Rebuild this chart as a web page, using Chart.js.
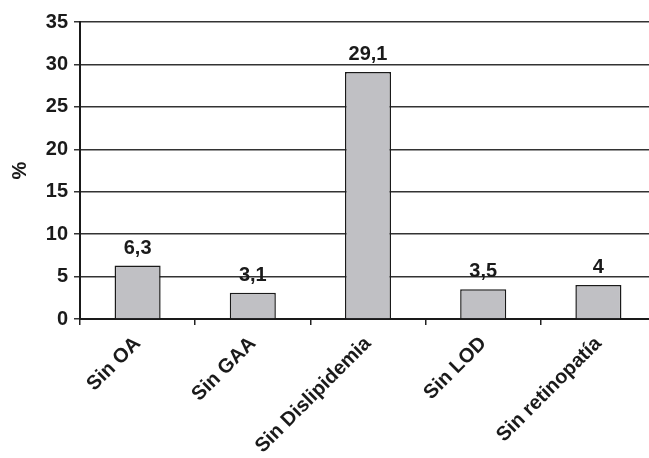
<!DOCTYPE html>
<html>
<head>
<meta charset="utf-8">
<script src="https://cdn.jsdelivr.net/npm/chart.js@4.4.1/dist/chart.umd.min.js"></script>
<style>
  html, body { margin: 0; padding: 0; background: #fff; overflow: hidden; }
  #wrap { width: 656px; height: 458px; }
</style>
</head>
<body>
<div id="wrap"><canvas id="c" width="656" height="458"></canvas></div>
<script>
const categories = ['Sin OA', 'Sin GAA', 'Sin Dislipidemia', 'Sin LOD', 'Sin retinopatía'];
const percentages = [6.3, 3.1, 29.1, 3.5, 4];
const yTicks = [0, 5, 10, 15, 20, 25, 30, 35];

const FONT = '"Liberation Sans", Arial, sans-serif';

// Writes each bar's value above it, with a decimal comma
const valueLabels = {
  id: 'valueLabels',
  afterDatasetsDraw(chart) {
    const ctx = chart.ctx;
    const meta = chart.getDatasetMeta(0);
    ctx.save();
    ctx.font = 'bold 20px ' + FONT;
    ctx.fillStyle = '#1a1a1a';
    ctx.textAlign = 'center';
    ctx.textBaseline = 'alphabetic';
    meta.data.forEach((bar, i) => {
      const txt = String(percentages[i]).replace('.', ',');
      ctx.fillText(txt, bar.x, bar.y - 12);
    });
    ctx.restore();
  }
};

new Chart(document.getElementById('c'), {
  type: 'bar',
  data: {
    labels: categories,
    datasets: [{
      data: percentages,
      backgroundColor: '#c0c0c4',
      borderColor: '#1a1a1a',
      borderWidth: 1.5,
      categoryPercentage: 0.4,
      barPercentage: 1
    }]
  },
  options: {
    responsive: false,
    animation: false,
    layout: { padding: { top: 22, right: 0, left: 0, bottom: 0 } },
    plugins: { legend: { display: false }, tooltip: { enabled: false } },
    scales: {
      x: {
        offset: true,
        grid: {
          offset: true,
          drawOnChartArea: false,
          drawTicks: true,
          tickLength: 6,
          color: '#222',
          lineWidth: 1.5
        },
        border: { color: '#1a1a1a', width: 2 },
        ticks: {
          color: '#1a1a1a',
          font: { family: FONT, size: 20, weight: 'bold' },
          minRotation: 45,
          maxRotation: 45,
          padding: 7
        },
        afterFit(scale) { scale.height = 139; }
      },
      y: {
        min: 0,
        max: 35,
        afterBuildTicks(scale) { scale.ticks = yTicks.map(v => ({ value: v })); },
        grid: {
          color: '#333',
          lineWidth: 1.5,
          tickLength: 6
        },
        border: { color: '#1a1a1a', width: 2 },
        ticks: {
          color: '#1a1a1a',
          font: { family: FONT, size: 20, weight: 'bold' },
          padding: 6
        },
        title: {
          display: true,
          text: '%',
          color: '#1a1a1a',
          font: { family: FONT, size: 20, weight: 'bold' },
          padding: { top: 8, bottom: 0 }
        },
        afterFit(scale) { scale.width = 80; }
      }
    }
  },
  plugins: [valueLabels]
});
</script>
</body>
</html>
